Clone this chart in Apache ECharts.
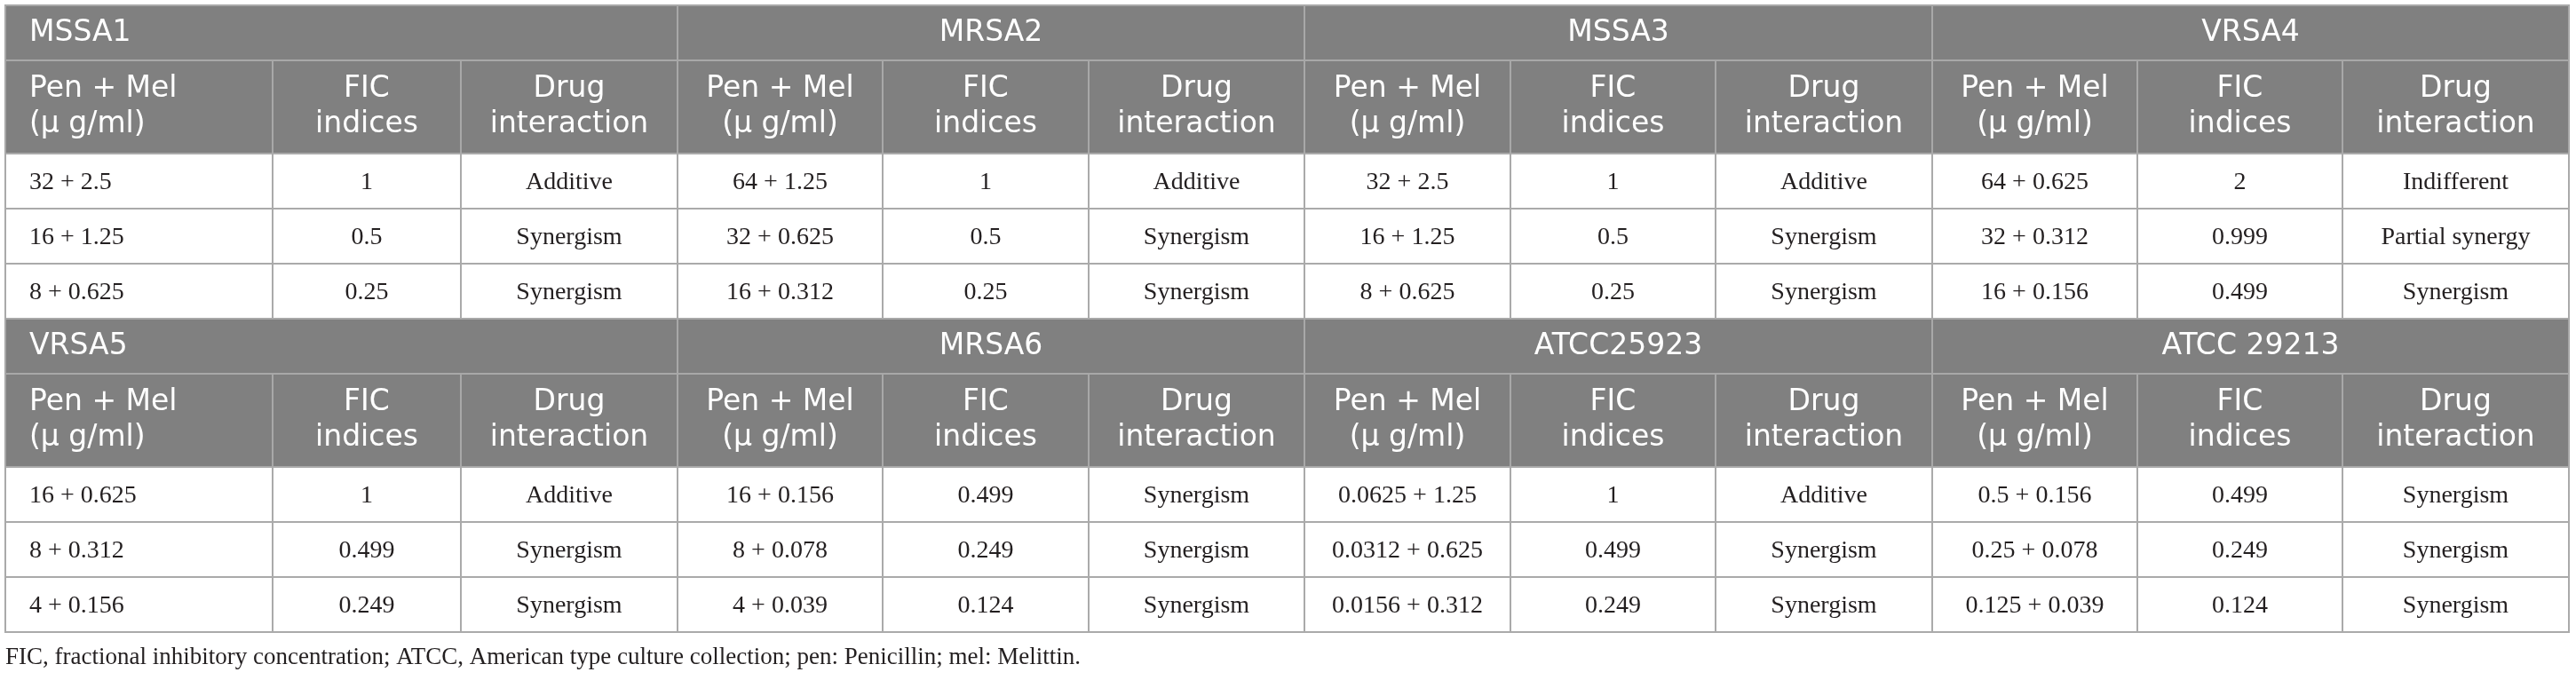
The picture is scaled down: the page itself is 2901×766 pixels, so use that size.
<!DOCTYPE html>
<html>
<head>
<meta charset="utf-8">
<script src="https://cdn.jsdelivr.net/npm/echarts@6/dist/echarts.min.js"></script>
<style>
  html, body { margin: 0; padding: 0; background: #ffffff; }
  #chart { width: 2901px; height: 766px; }
</style>
</head>
<body>
<div id="chart"></div>
<script>
// ---------- data ----------
const strains = ['MSSA1', 'MRSA2', 'MSSA3', 'VRSA4', 'VRSA5', 'MRSA6', 'ATCC25923', 'ATCC 29213'];
const columnHeaders = ['Pen + Mel\n(\u03bc g/ml)', 'FIC\nindices', 'Drug\ninteraction'];
const penMel = [
  ['32 + 2.5', '16 + 1.25', '8 + 0.625'],
  ['64 + 1.25', '32 + 0.625', '16 + 0.312'],
  ['32 + 2.5', '16 + 1.25', '8 + 0.625'],
  ['64 + 0.625', '32 + 0.312', '16 + 0.156'],
  ['16 + 0.625', '8 + 0.312', '4 + 0.156'],
  ['16 + 0.156', '8 + 0.078', '4 + 0.039'],
  ['0.0625 + 1.25', '0.0312 + 0.625', '0.0156 + 0.312'],
  ['0.5 + 0.156', '0.25 + 0.078', '0.125 + 0.039']
];
const ficIndices = [
  [1, 0.5, 0.25],
  [1, 0.5, 0.25],
  [1, 0.5, 0.25],
  [2, 0.999, 0.499],
  [1, 0.499, 0.249],
  [0.499, 0.249, 0.124],
  [1, 0.499, 0.249],
  [0.499, 0.249, 0.124]
];
const interactions = [
  ['Additive', 'Synergism', 'Synergism'],
  ['Additive', 'Synergism', 'Synergism'],
  ['Additive', 'Synergism', 'Synergism'],
  ['Indifferent', 'Partial synergy', 'Synergism'],
  ['Additive', 'Synergism', 'Synergism'],
  ['Synergism', 'Synergism', 'Synergism'],
  ['Additive', 'Synergism', 'Synergism'],
  ['Synergism', 'Synergism', 'Synergism']
];
const footnote = 'FIC, fractional inhibitory concentration; ATCC, American type culture collection; pen: Penicillin; mel: Melittin.';

// ---------- layout (table units) ----------
const colEdges = [
  [0, 301, 513, 757],
  [757, 988, 1220, 1463],
  [1463, 1695, 1926, 2170],
  [2170, 2401, 2632, 2887]
];
const TABLE_W = 2887, TABLE_H = 706;
const groupTop = [0, 353];
const H_GROUP = 62, H_SUB = 105, H_ROW = 62;

const HEADER_BG = '#808080';
const HEADER_LINE = '#a8a8a8';
const BODY_LINE = '#aaaaaa';
const SANS = '"DejaVu Sans", sans-serif';
const SERIF = '"Liberation Serif", serif';

// build cell list
const cells = [];
strains.forEach((name, s) => {
  const g = Math.floor(s / 4), b = s % 4;
  const ce = colEdges[b];
  const y0 = groupTop[g];
  const left = (b === 0);
  cells.push({ x0: ce[0], x1: ce[3], y0: y0, y1: y0 + H_GROUP, text: name, kind: 'head', left: left, lh: 40 });
  const ys = y0 + H_GROUP;
  for (let c = 0; c < 3; c++) {
    cells.push({ x0: ce[c], x1: ce[c + 1], y0: ys, y1: ys + H_SUB, text: columnHeaders[c], kind: 'head', left: left && c === 0, lh: 40 });
  }
  for (let r = 0; r < 3; r++) {
    const yr = ys + H_SUB + r * H_ROW;
    const vals = [penMel[s][r], String(ficIndices[s][r]), interactions[s][r]];
    for (let c = 0; c < 3; c++) {
      cells.push({ x0: ce[c], x1: ce[c + 1], y0: yr, y1: yr + H_ROW, text: vals[c], kind: 'body', left: left && c === 0, lh: 30 });
    }
  }
});

const chart = echarts.init(document.getElementById('chart'), null, { renderer: 'canvas' });
chart.setOption({
  animation: false,
  backgroundColor: '#ffffff',
  title: {
    text: footnote,
    left: 6,
    top: 727,
    padding: 0,
    textStyle: { fontFamily: SERIF, fontSize: 27, fontWeight: 'normal', color: '#231f20' }
  },
  grid: { left: 6, top: 6, width: TABLE_W, height: TABLE_H },
  xAxis: { type: 'value', min: 0, max: TABLE_W, show: false },
  yAxis: { type: 'value', min: 0, max: TABLE_H, inverse: true, show: false },
  series: [{
    type: 'custom',
    coordinateSystem: 'cartesian2d',
    encode: { x: [0, 2], y: [1, 3] },
    data: cells.map(c => [c.x0, c.y0, c.x1, c.y1]),
    renderItem: function (params, api) {
      const c = cells[params.dataIndex];
      const p0 = api.coord([c.x0, c.y0]);
      const p1 = api.coord([c.x1, c.y1]);
      const w = p1[0] - p0[0], h = p1[1] - p0[1];
      const head = c.kind === 'head';
      return {
        type: 'group',
        children: [
          {
            type: 'rect',
            shape: { x: p0[0], y: p0[1], width: w, height: h },
            style: { fill: head ? HEADER_BG : '#ffffff', stroke: head ? HEADER_LINE : BODY_LINE, lineWidth: 2 }
          },
          {
            type: 'text',
            z2: 10,
            style: {
              text: c.text,
              x: c.left ? p0[0] + 27 : p0[0] + w / 2,
              y: p0[1] + h / 2 + (head ? 0 : 2),
              align: c.left ? 'left' : 'center',
              verticalAlign: 'middle',
              fontFamily: head ? SANS : SERIF,
              fontSize: head ? 33 : 28,
              lineHeight: c.lh,
              fill: head ? '#ffffff' : '#231f20'
            }
          }
        ]
      };
    }
  }]
});
</script>
</body>
</html>
